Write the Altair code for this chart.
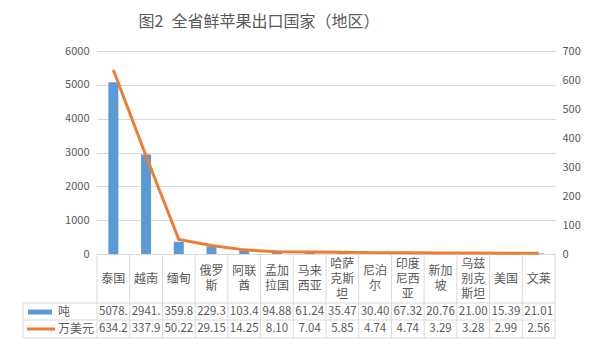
import altair as alt
import pandas as pd

categories = ["泰国", "越南", "缅甸", "俄罗斯", "阿联酋", "孟加拉国", "马来西亚",
              "哈萨克斯坦", "尼泊尔", "印度尼西亚", "新加坡", "乌兹别克斯坦", "美国", "文莱"]
header_labels = ["泰国", "越南", "缅甸", "俄罗/斯", "阿联/酋", "孟加/拉国", "马来/西亚",
                 "哈萨/克斯/坦", "尼泊/尔", "印度/尼西/亚", "新加/坡", "乌兹/别克/斯坦", "美国", "文莱"]
tons = [5078, 2941, 359.8, 229.3, 103.4, 94.88, 61.24, 35.47, 30.40, 67.32, 20.76, 21.00, 15.39, 21.01]
tons_text = ["5078.", "2941.", "359.8", "229.3", "103.4", "94.88", "61.24", "35.47",
             "30.40", "67.32", "20.76", "21.00", "15.39", "21.01"]
usd = [634.2, 337.9, 50.22, 29.15, 14.25, 8.10, 7.04, 5.85, 4.74, 4.74, 3.29, 3.28, 2.99, 2.56]
usd_text = ["634.2", "337.9", "50.22", "29.15", "14.25", "8.10", "7.04", "5.85",
            "4.74", "4.74", "3.29", "3.28", "2.99", "2.56"]
left_ticks = [0, 1000, 2000, 3000, 4000, 5000, 6000]
right_ticks = [0, 100, 200, 300, 400, 500, 600, 700]
title_text = "图2\u2002全省鲜苹果出口国家（地区）"
series_names = ["吨", "万美元"]

df = pd.DataFrame({
    "cat": categories, "hdr": header_labels, "tons": tons, "tons_t": tons_text,
    "usd": usd, "usd_t": usd_text,
})

W, H = 458, 203
FONT = "Noto Sans CJK SC"
TXT = "#595959"
GRID = "#d9d9d9"
LH = 15
HDR_C = 227.5

xenc = alt.X("cat:N", sort=categories, axis=None,
             scale=alt.Scale(paddingInner=0, paddingOuter=0))

bars = alt.Chart(df).mark_bar(color="#5B9BD5", width=10).encode(
    x=xenc,
    y=alt.Y("tons:Q", scale=alt.Scale(domain=[0, 6000], nice=False),
            axis=alt.Axis(values=left_ticks, format="d", title=None, domain=False, ticks=False,
                          grid=True, gridColor=GRID, gridWidth=1,
                          labelColor=TXT, labelFontSize=11, labelFont=FONT,
                          labelPadding=8)),
)

line = alt.Chart(df).mark_line(color="#ED7D31", strokeWidth=3).encode(
    x=xenc,
    y=alt.Y("usd:Q", scale=alt.Scale(domain=[0, 700], nice=False),
            axis=alt.Axis(orient="right", values=right_ticks, format="d", title=None, domain=False,
                          ticks=False, grid=False, labelColor=TXT, labelFontSize=11,
                          labelFont=FONT, labelPadding=7)),
)

base = alt.Chart(df)

vrules = base.mark_rule(color=GRID, strokeWidth=1).encode(
    x=alt.X("cat:N", sort=categories, bandPosition=0, axis=None,
            scale=alt.Scale(paddingInner=0, paddingOuter=0)),
    y=alt.value(H), y2=alt.value(287),
)

hdr_base = base.transform_calculate(
    n="length(split(datum.hdr, '/'))"
)


def header_layer(n):
    return hdr_base.transform_filter(f"datum.n == {n}").mark_text(
        lineBreak="/", fontSize=12, lineHeight=LH, font=FONT,
        color=TXT, baseline="middle", align="center").encode(
        x=xenc, y=alt.value(HDR_C - (n - 1) * LH / 2), text="hdr:N")


h1, h2, h3 = header_layer(1), header_layer(2), header_layer(3)

row1 = base.mark_text(fontSize=11.5, font=FONT, color=TXT, baseline="middle",
                      align="center").encode(x=xenc, y=alt.value(260.5), text="tons_t:N")
row2 = base.mark_text(fontSize=11.5, font=FONT, color=TXT, baseline="middle",
                      align="center").encode(x=xenc, y=alt.value(278), text="usd_t:N")

one = pd.DataFrame({"a": [0]})
o = alt.Chart(one)

hl1 = o.mark_rule(color=GRID, strokeWidth=1).encode(x=alt.value(-74), x2=alt.value(W), y=alt.value(252))
hl2 = o.mark_rule(color=GRID, strokeWidth=1).encode(x=alt.value(-74), x2=alt.value(W), y=alt.value(269))
hl3 = o.mark_rule(color=GRID, strokeWidth=1).encode(x=alt.value(-74), x2=alt.value(W), y=alt.value(287))
vl_left = o.mark_rule(color=GRID, strokeWidth=1).encode(x=alt.value(-74), y=alt.value(252), y2=alt.value(287))
vl_right = o.mark_rule(color=GRID, strokeWidth=1).encode(x=alt.value(W), y=alt.value(H), y2=alt.value(287))

leg_bar = o.mark_rule(color="#5B9BD5", strokeWidth=5).encode(
    x=alt.value(-69), x2=alt.value(-45), y=alt.value(261))
leg_line = o.mark_rule(color="#ED7D31", strokeWidth=3).encode(
    x=alt.value(-70), x2=alt.value(-42), y=alt.value(278))
leg_t1 = o.mark_text(text=series_names[0], fontSize=12, font=FONT, color=TXT,
                     align="left", baseline="middle").encode(x=alt.value(-39), y=alt.value(260.5))
leg_t2 = o.mark_text(text=series_names[1], fontSize=12, font=FONT, color=TXT,
                     align="left", baseline="middle").encode(x=alt.value(-39), y=alt.value(278))

title = o.mark_text(text=title_text, fontSize=16, font=FONT, color=TXT,
                    align="center", baseline="middle").encode(x=alt.value(162), y=alt.value(-29.5))

main = alt.layer(bars, line).resolve_scale(y="independent")

chart = alt.layer(
    main, vrules, hl1, hl2, hl3, vl_left, vl_right, h1, h2, h3, row1, row2,
    leg_bar, leg_line, leg_t1, leg_t2, title,
).properties(
    width=W, height=H,
    autosize=alt.AutoSizeParams(type="none"),
    padding={"left": 89, "top": 43, "right": 28, "bottom": 93},
).configure_view(stroke=None)

chart.save("out.html", embed_options={"renderer": "svg", "actions": False})
